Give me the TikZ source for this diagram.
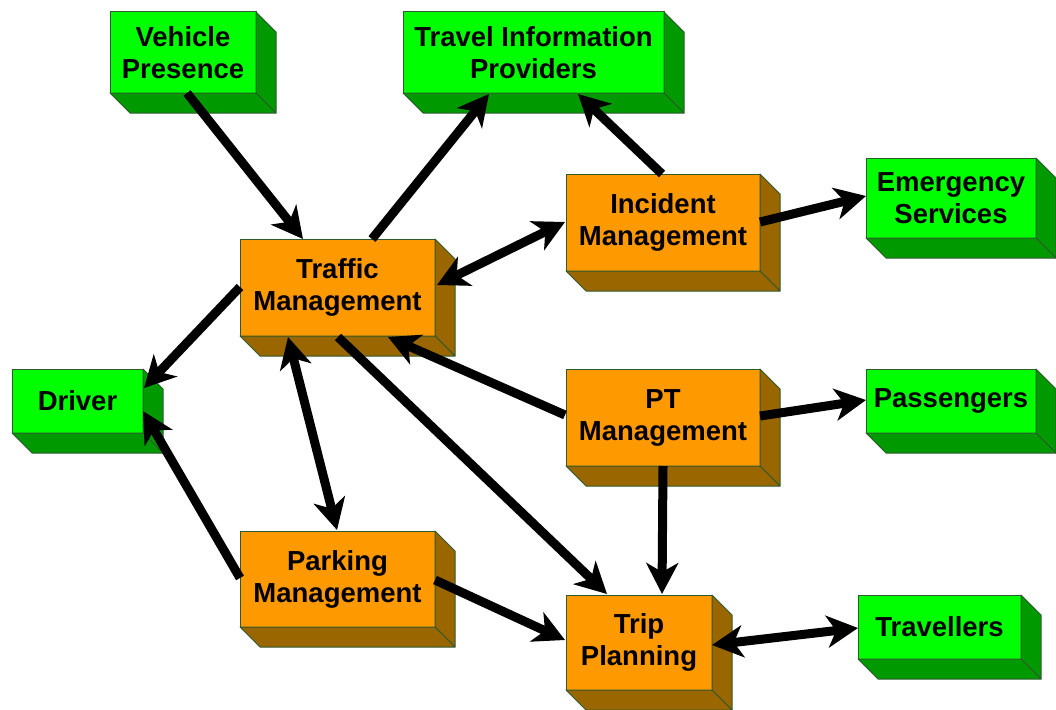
\documentclass[tikz,border=0pt]{standalone}
\usepackage{fontspec}
\setmainfont{Liberation Sans}
\usetikzlibrary{arrows.meta,calc}
\definecolor{gface}{HTML}{00FF00}
\definecolor{gside}{HTML}{009900}
\definecolor{oface}{HTML}{FF9900}
\definecolor{oside}{HTML}{996600}
\definecolor{edgec}{HTML}{2F5A2F}
\newcommand{\boxsides}[2]{%
  \filldraw[fill=#2, draw=edgec, line width=1pt, line join=round]
    (#1.north east) -- ++(20,20) -- ($(#1.south east)+(20,20)$) -- (#1.south east) -- cycle;
  \filldraw[fill=#2, draw=edgec, line width=1pt, line join=round]
    (#1.south west) -- (#1.south east) -- ($(#1.south east)+(20,20)$) -- ($(#1.south west)+(20,20)$) -- cycle;
}
\tikzset{
  basebox/.style={draw=edgec, line width=1pt, anchor=north west, inner sep=0pt, outer sep=0pt,
    align=center, text=black, font=\fontsize{27.5}{32}\selectfont\bfseries},
  gbox/.style={basebox, fill=gface},
  obox/.style={basebox, fill=oface},
  arr/.style={line width=9pt, -{Stealth[length=31pt,width=32pt,inset=9pt]}},
  darr/.style={line width=9pt, {Stealth[length=31pt,width=32pt,inset=9pt]}-{Stealth[length=31pt,width=32pt,inset=9pt]}}
}
\begin{document}
\begin{tikzpicture}[x=1pt,y=-1pt]
\useasboundingbox (0,0) rectangle (1056,709);
% boxes
\node[gbox, minimum width=146pt, minimum height=81pt] (vp) at (110,12) {Vehicle\\Presence};
\boxsides{vp}{gside}
\node[gbox, minimum width=261pt, minimum height=81pt] (tip) at (403,12) {Travel Information\\Providers};
\boxsides{tip}{gside}
\node[obox, minimum width=194pt, minimum height=97pt] (im) at (566,174) {Incident\\Management};
\boxsides{im}{oside}
\node[gbox, minimum width=170pt, minimum height=80pt] (es) at (866,158) {Emergency\\Services};
\boxsides{es}{gside}
\node[obox, minimum width=195pt, minimum height=97pt] (tm) at (240,239) {Traffic\\Management};
\boxsides{tm}{oside}
\node[gbox, minimum width=131pt, minimum height=64pt] (drv) at (12,369) {Driver};
\boxsides{drv}{gside}
\node[obox, minimum width=194pt, minimum height=97pt] (pt) at (566,369) {PT\\Management};
\boxsides{pt}{oside}
\node[gbox, minimum width=170pt, minimum height=64pt] (pas) at (866,369) {Passengers};
\boxsides{pas}{gside}
\node[obox, minimum width=195pt, minimum height=96pt] (pk) at (240,531) {Parking\\Management};
\boxsides{pk}{oside}
\node[obox, minimum width=146pt, minimum height=95pt] (trp) at (566,595) {Trip\\Planning};
\boxsides{trp}{oside}
\node[gbox, minimum width=163pt, minimum height=64pt] (trv) at (858,595) {Travellers};
\boxsides{trv}{gside}
% connectors
\draw[arr] ($(vp.south west)+(77,0)$) -- ($(tm.north west)+(63,0)$);
\draw[arr] ($(tm.north west)+(132,0)$) -- ($(tip.south west)+(86,1)$);
\draw[arr] ($(im.north west)+(96,0)$) -- ($(tip.south west)+(175,1)$);
\draw[darr] ($(tm.north east)+(2,46)$) -- ($(im.north west)+(-1,48)$);
\draw[arr] ($(im.north east)+(0,48)$) -- ($(es.north west)+(0,38)$);
\draw[arr] ($(tm.north west)+(0,48)$) -- ($(drv.north east)+(1,19)$);
\draw[arr] ($(pk.north west)+(0,47)$) -- ($(drv.north east)+(0,42)$);
\draw[darr] ($(tm.south west)+(48,1)$) -- ($(pk.north west)+(97,-1)$);
\draw[arr] ($(tm.south west)+(98,1)$) -- ($(trp.north west)+(41,-1)$);
\draw[arr] ($(pt.north west)+(-1,46)$) -- ($(tm.south west)+(148,1)$);
\draw[arr] ($(pt.north east)+(0,47)$) -- ($(pas.north west)+(0,31)$);
\draw[arr] ($(pt.south west)+(97,0)$) -- ($(trp.north west)+(96,-1)$);
\draw[arr] ($(pk.north east)+(0,49)$) -- ($(trp.north west)+(-1,45)$);
\draw[darr] ($(trp.north east)+(0,50)$) -- ($(trv.north west)+(0,33)$);
\end{tikzpicture}
\end{document}
